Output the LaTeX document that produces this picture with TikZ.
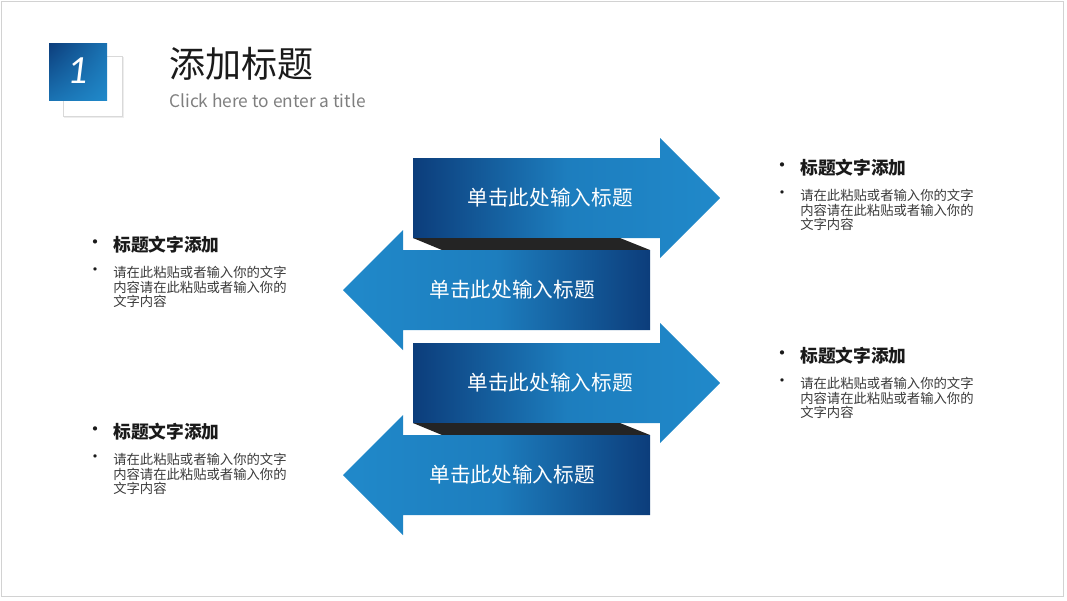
\documentclass[tikz,border=0pt]{standalone}
\usepackage{fontspec}
\setmainfont{Noto Sans CJK SC}
\newfontfamily\numfont{Carlito}
\usetikzlibrary{shadings}
\definecolor{ink}{HTML}{1A1A1A}
\definecolor{deep}{HTML}{0C3D7B}
\definecolor{sky}{HTML}{2089CA}
\definecolor{fold}{HTML}{242424}
\definecolor{note}{HTML}{3A3A3A}
\definecolor{hint}{HTML}{7F7F7F}
\definecolor{frame}{HTML}{D2D2D2}

\begin{document}
\begin{tikzpicture}[x=0.75pt,y=-0.75pt,text=ink,
  bartext/.style={text=white,font=\fontsize{15.5}{18}\selectfont,inner sep=0pt},
  headtext/.style={font=\fontsize{13.3}{16}\selectfont\bfseries,inner sep=0pt,anchor=west},
  bodytext/.style={text=note,font=\fontsize{10}{10.9}\selectfont,inner sep=0pt,
    align=left,anchor=north west},
  dot/.style={font=\fontsize{15}{16}\selectfont,inner sep=0pt}]
  \useasboundingbox (0,0) rectangle (1067,600);
  \draw[frame] (1.5,1.5) rectangle (1063.5,596.5);
  \draw[black!15,fill=white] (63,56) rectangle (122,116);
  \draw[black!7] (64,117) -- (123,117) -- (123,57);
  \shade[upper left=deep,upper right=sky!70!deep,lower left=sky!70!deep,
    lower right=sky] (49,43) rectangle (107,100);
  \node[text=white,font=\numfont\itshape\fontsize{30}{36}\selectfont,inner sep=0pt]
    (num) at (78,71) {1};
  \node[font=\fontsize{27}{30}\selectfont,anchor=west,inner sep=0pt]
    (title) at (169,64) {添加标题};
  \node[text=hint,font=\fontsize{13}{16}\selectfont,anchor=west,inner sep=0pt]
    (subtitle) at (169,101) {Click here to enter a title};
  \foreach \y/\n in {158/1,343/3}{
    \shade[left color=deep,right color=sky,middle color=sky!85!deep]
      (413,\y) -- (660,\y) -- (660,\y-20) -- (720,\y+40) -- (660,\y+100)
      -- (660,\y+80) -- (413,\y+80) -- cycle;
    \fill[fold] (413,\y+80) -- (620,\y+80) -- (650,\y+92) -- (442,\y+92) -- cycle;
    \node[bartext] (bar\n) at (550,\y+40) {单击此处输入标题};
  }
  \foreach \y/\n in {250/2,435/4}{
    \shade[left color=sky,right color=deep,middle color=sky!85!deep]
      (650,\y) -- (650,\y+80) -- (403,\y+80) -- (403,\y+100) -- (343,\y+40)
      -- (403,\y-20) -- (403,\y) -- cycle;
    \node[bartext] (bar\n) at (512,\y+40) {单击此处输入标题};
  }
  \foreach \x/\y/\n in {113/245/a,800/168/b,800/356/c,113/432/d}{
    \node[headtext] (head\n) at (\x,\y) {标题文字添加};
    \node[dot] (hdot\n) at (\x-18,\y) {•};
    \node[bodytext] (body\n) at (\x,\y+21)
      {请在此粘贴或者输入你的文字\\内容请在此粘贴或者输入你的\\文字内容};
    \node[dot,font=\fontsize{12}{14}\selectfont] (bdot\n) at (\x-18,\y+27) {•};
  }
\end{tikzpicture}
\end{document}
